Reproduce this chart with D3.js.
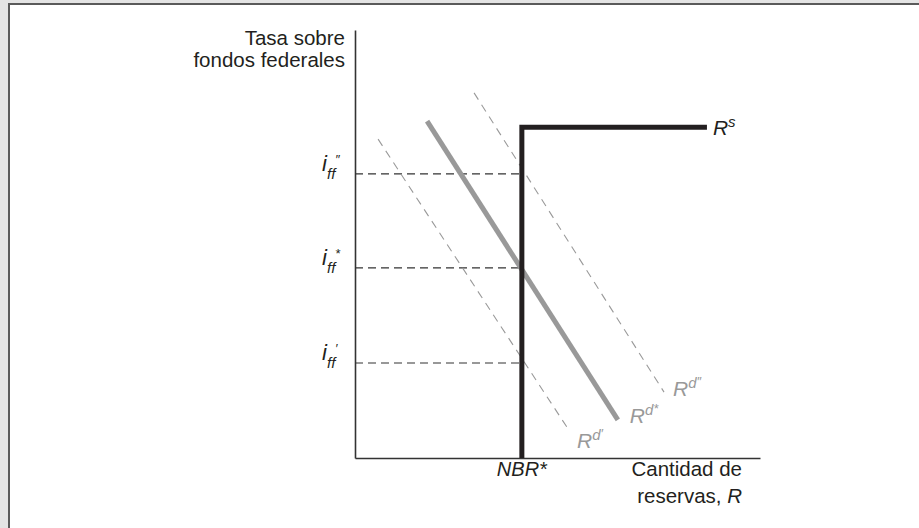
<!DOCTYPE html>
<html>
<head>
<meta charset="utf-8">
<script src="https://cdn.jsdelivr.net/npm/d3@7"></script>
<style>
body { margin: 0; background: #e4e4e4; }
svg { display: block; }
text { font-family: "Liberation Sans", Arial, Helvetica, sans-serif; fill: #231f20; }
</style>
</head>
<body>
<svg id="chart" width="919" height="528"></svg>
<script>
// values in arbitrary units (0..100 on both axes)
const nbr = 41.2
const supplyTop = 77.3
const supplyEnd = 86.9

const rates = [66.4, 44.4, 22.2]
const rateMarks = ["\u2033", "*", "\u2032"]

// demand curves: [x0, y0, x1, y1]
const demandNames = ["Rd'", "Rd*", "Rd''"]
const demandLines = [
    [5.7, 74.5, 53.1, 6.1],
    [17.8, 78.7, 64.9, 8.9],
    [29.4, 85.3, 76.3, 15.4]
]
const demandMarks = ["\u2032", "*", "\u2033"]
const demandDashed = [true, false, true]

let svg = d3.select("#chart");

// frame
svg.append("rect").attr("x", 0).attr("y", 0).attr("width", 919).attr("height", 528).attr("fill", "#e4e4e4");
svg.append("rect").attr("x", 9).attr("y", 4).attr("width", 930).attr("height", 540)
    .attr("fill", "#fff").attr("stroke", "#5a5a5a").attr("stroke-width", 2);

let x = d3.scaleLinear().domain([0, 100]).range([355, 760]);
let y = d3.scaleLinear().domain([0, 100]).range([458, 30]);

let plot = svg.append("g").attr("id", "plot");

// axes (plain lines, no ticks)
let xAxis = d3.axisBottom(x).tickValues([]).tickSizeOuter(0);
let yAxis = d3.axisLeft(y).tickValues([]).tickSizeOuter(0);
plot.append("g").attr("transform", "translate(0," + y(0) + ")").call(xAxis)
    .select(".domain").attr("stroke", "#333").attr("stroke-width", 1.6);
plot.append("g").attr("transform", "translate(" + x(0) + ",0)").call(yAxis)
    .select(".domain").attr("stroke", "#333").attr("stroke-width", 1.6);

// horizontal dashed rate lines
plot.selectAll("line.rate")
    .data(rates)
    .enter().append("line")
    .attr("class", "rate")
    .attr("x1", x(0)).attr("x2", x(nbr))
    .attr("y1", function(d) { return y(d); })
    .attr("y2", function(d) { return y(d); })
    .attr("stroke", "#333").attr("stroke-width", 1.2)
    .attr("stroke-dasharray", "8,5");

// demand curves
plot.selectAll("line.demand")
    .data(demandLines)
    .enter().append("line")
    .attr("class", "demand")
    .attr("x1", function(d) { return x(d[0]); })
    .attr("y1", function(d) { return y(d[1]); })
    .attr("x2", function(d) { return x(d[2]); })
    .attr("y2", function(d) { return y(d[3]); })
    .attr("stroke", "#999")
    .attr("stroke-width", function(d, i) { return demandDashed[i] ? 1.1 : 5; })
    .attr("stroke-dasharray", function(d, i) { return demandDashed[i] ? "8,6" : null; });

// supply curve
let line = d3.line().x(function(d) { return x(d[0]); }).y(function(d) { return y(d[1]); });
plot.append("path")
    .datum([[nbr, 0], [nbr, supplyTop], [supplyEnd, supplyTop]])
    .attr("d", line)
    .attr("fill", "none").attr("stroke", "#231f20").attr("stroke-width", 5)
    .attr("stroke-linejoin", "miter");

// rate labels i_ff
rates.forEach(function(r, i) {
    let g = plot.append("g").attr("transform", "translate(322," + y(r) + ")");
    g.append("text").attr("x", 0).attr("y", -3).attr("font-size", 22).attr("font-style", "italic").text("i");
    g.append("text").attr("x", 5).attr("y", 5).attr("font-size", 15).attr("font-style", "italic").text("ff");
    g.append("text").attr("x", 13).attr("y", -10).attr("font-size", 13).attr("font-style", "italic").text(rateMarks[i]);
});

// demand labels
let offs = [[7, 16], [12, 3], [9, 4]];
demandLines.forEach(function(d, i) {
    let t = plot.append("text")
        .attr("x", x(d[2]) + offs[i][0])
        .attr("y", y(d[3]) + offs[i][1])
        .attr("font-size", 21).attr("font-style", "italic").style("fill", "#999");
    t.append("tspan").text("R");
    t.append("tspan").attr("dy", -8).attr("font-size", 15).style("fill", "#999").text("d");
    t.append("tspan").attr("dy", -2).attr("font-size", 13).style("fill", "#999").text(demandMarks[i]);
});

// supply label
let rs = plot.append("text").attr("x", x(supplyEnd) + 6).attr("y", y(supplyTop) + 8)
    .attr("font-size", 21).attr("font-style", "italic");
rs.append("tspan").text("R");
rs.append("tspan").attr("dy", -8).attr("font-size", 15).text("s");

// axis titles
plot.append("text").attr("x", 345).attr("y", 45).attr("font-size", 20.5).attr("text-anchor", "end").text("Tasa sobre");
plot.append("text").attr("x", 345).attr("y", 67).attr("font-size", 20.5).attr("text-anchor", "end").text("fondos federales");

plot.append("text").attr("x", x(nbr)).attr("y", 476).attr("font-size", 20).attr("font-style", "italic")
    .attr("text-anchor", "middle").text("NBR*");

plot.append("text").attr("x", 742).attr("y", 476).attr("font-size", 20.5).attr("text-anchor", "end").text("Cantidad de");
let rr = plot.append("text").attr("x", 742).attr("y", 503).attr("font-size", 20.5).attr("text-anchor", "end");
rr.append("tspan").text("reservas, ");
rr.append("tspan").attr("font-style", "italic").text("R");
</script>
</body>
</html>
